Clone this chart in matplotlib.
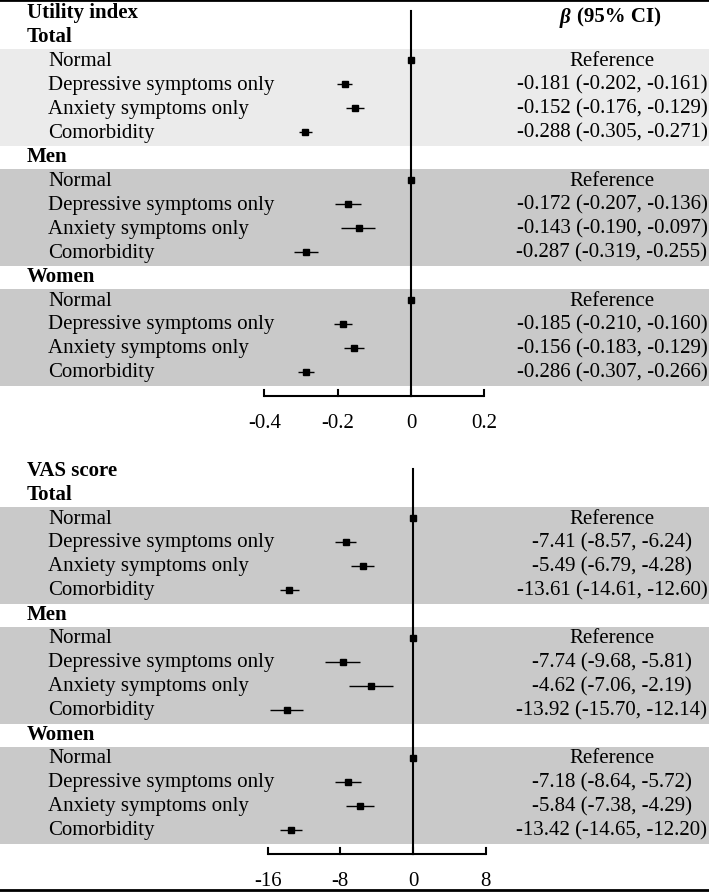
import matplotlib
matplotlib.use("Agg")
import matplotlib.pyplot as plt
from matplotlib.lines import Line2D
from matplotlib.transforms import blended_transform_factory

plt.rcParams['font.family'] = ['Liberation Serif', 'DejaVu Serif']

# ---------------- data ----------------
groups = ["Total", "Men", "Women"]
categories = ["Normal", "Depressive symptoms only", "Anxiety symptoms only", "Comorbidity"]

util_est = [[0.0, -0.181, -0.152, -0.288],
            [0.0, -0.172, -0.143, -0.287],
            [0.0, -0.185, -0.156, -0.286]]
util_lo = [[0.0, -0.202, -0.176, -0.305],
           [0.0, -0.207, -0.190, -0.319],
           [0.0, -0.210, -0.183, -0.307]]
util_hi = [[0.0, -0.161, -0.129, -0.271],
           [0.0, -0.136, -0.097, -0.255],
           [0.0, -0.160, -0.129, -0.266]]
util_ticks = [-0.4, -0.2, 0, 0.2]
util_ticklabels = ["-0.4", "-0.2", "0", "0.2"]

vas_est = [[0.0, -7.41, -5.49, -13.61],
           [0.0, -7.74, -4.62, -13.92],
           [0.0, -7.18, -5.84, -13.42]]
vas_lo = [[0.0, -8.57, -6.79, -14.61],
          [0.0, -9.68, -7.06, -15.70],
          [0.0, -8.64, -7.38, -14.65]]
vas_hi = [[0.0, -6.24, -4.28, -12.60],
          [0.0, -5.81, -2.19, -12.14],
          [0.0, -5.72, -4.29, -12.20]]
vas_ticks = [-16, -8, 0, 8]
vas_ticklabels = ["-16", "-8", "0", "8"]

W, H = 709, 895
DPI = 100
FS = 15
fig = plt.figure(figsize=(W / DPI, H / DPI), dpi=DPI)

band_colors = [["#ebebeb", "#c9c9c9", "#c9c9c9"], ["#c9c9c9", "#c9c9c9", "#c9c9c9"]]


def panel(top_px, row0_px, xlim, title, est, lo, hi, ticks, ticklabels, fmt, bands, header):
    # axes spans full width; rows are 24 px apart
    pitch = 24.0
    height_px = 458
    ax = fig.add_axes([0, 1 - (top_px + height_px) / H, 1, height_px / H])
    ax.set_xlim(*xlim)
    r_top = (top_px - row0_px) / pitch
    r_bot = (top_px + height_px - row0_px) / pitch
    ax.set_ylim(r_bot, r_top)
    ax.axis('off')
    tr = blended_transform_factory(ax.transAxes, ax.transData)
    px = lambda p: p / W

    ax.text(px(27), 0, title, transform=tr, fontsize=FS, fontweight='bold',
            ha='left', va='center')
    if header:
        ax.text(px(576), 0.2, "β ", transform=tr, fontsize=FS, fontweight='bold',
                fontstyle='italic', ha='right', va='center')
        ax.text(px(577), 0.2, "(95% CI)", transform=tr, fontsize=FS, fontweight='bold',
                ha='left', va='center')

    r = 1
    for gi, g in enumerate(groups):
        ax.text(px(27), r, g, transform=tr, fontsize=FS, fontweight='bold',
                ha='left', va='center')
        first = r + 1
        last = r + len(categories)
        ax.axhspan(first - 0.46, last + 0.58, color=bands[gi], zorder=0, lw=0)
        for ci, c in enumerate(categories):
            rr = r + 1 + ci
            ax.text(px(48), rr, c, transform=tr, fontsize=FS, ha='left', va='center')
            e, l, h = est[gi][ci], lo[gi][ci], hi[gi][ci]
            if ci == 0:
                lab = "Reference"
            else:
                lab = f"{fmt.format(e)} ({fmt.format(l)}, {fmt.format(h)})"
            ax.text(px(612), rr, lab, transform=tr, fontsize=FS, ha='center', va='center')
            ax.plot([l, h], [rr, rr], color='black', lw=1.0, zorder=3, solid_capstyle='butt')
            ax.plot([e], [rr], marker='s', ms=4.2, color='black', zorder=4)
        r = last + 1

    axis_r = 16.0
    ax.plot([0, 0], [-0.05, axis_r], color='black', lw=1.5, zorder=2)
    ax.plot([ticks[0], ticks[-1]], [axis_r, axis_r], color='black', lw=1.5,
            solid_capstyle='butt', zorder=2)
    for t, tl in zip(ticks, ticklabels):
        ax.plot([t, t], [axis_r - 0.27, axis_r], color='black', lw=1.5, zorder=2)
        ax.text(t, axis_r + 1.12, tl, fontsize=FS, ha='center', va='center')
    return ax


panel(0, 13, (-411 / 366.5, (W - 411) / 366.5), "Utility index",
      util_est, util_lo, util_hi, util_ticks, util_ticklabels, "{:.3f}", band_colors[0], True)
panel(437, 471, (-413 / 9.083, (W - 413) / 9.083), "VAS score",
      vas_est, vas_lo, vas_hi, vas_ticks, vas_ticklabels, "{:.2f}", band_colors[1], False)

fig.add_artist(Line2D([0, 1], [1 - 1 / H, 1 - 1 / H], color='black', lw=2, transform=fig.transFigure))
fig.add_artist(Line2D([0, 1], [1 - 891 / H, 1 - 891 / H], color='black', lw=2, transform=fig.transFigure))

fig.savefig("out.png", dpi=DPI)
